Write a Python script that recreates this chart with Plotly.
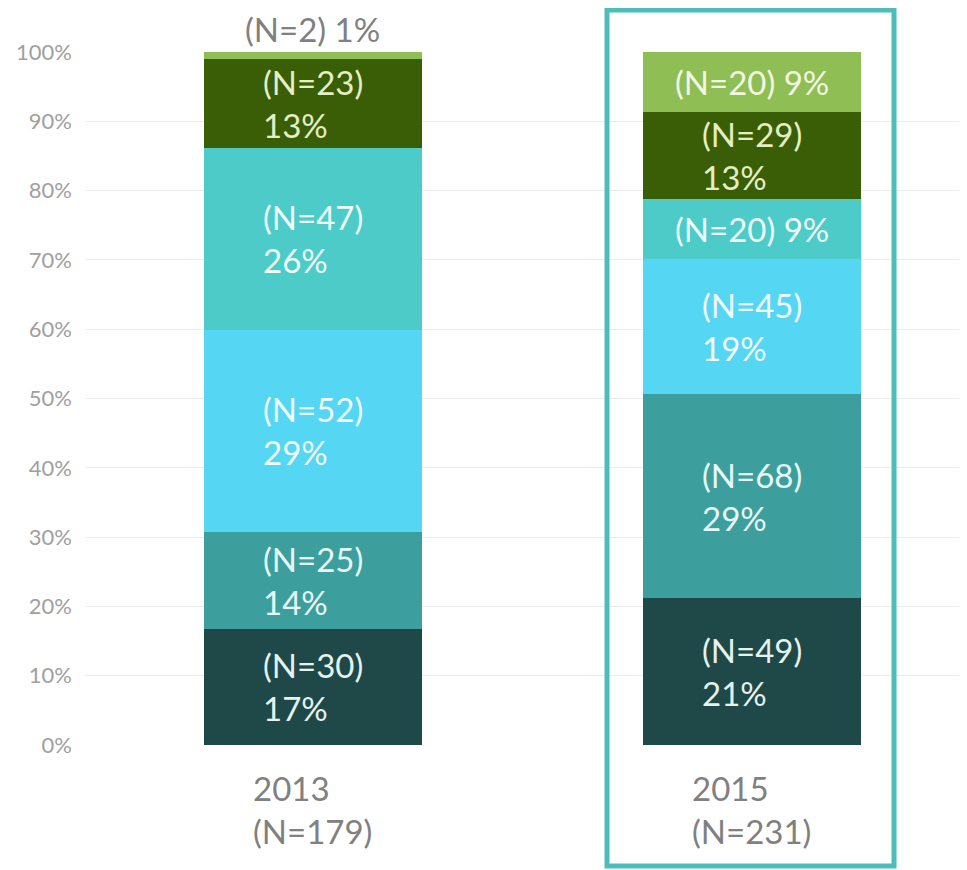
import plotly.graph_objects as go

years = ["2013", "2015"]
year_totals = [179, 231]

# segments bottom -> top
counts_2013 = [30, 25, 52, 47, 23, 2]
counts_2015 = [49, 68, 45, 20, 29, 20]
share_2013 = [16.8, 14.0, 29.1, 26.3, 12.8, 1.0]
share_2015 = [21.2, 29.4, 19.5, 8.7, 12.6, 8.6]
shown_pct_2013 = [17, 14, 29, 26, 13, 1]
shown_pct_2015 = [21, 29, 19, 9, 13, 9]

seg_colors = ["#1f4848", "#3d9f9d", "#55d6f3", "#4ccbc9", "#3a5e06", "#8fbe55"]
seg_text_colors = ["#e6f2ee", "#e8f8f6", "#f0fcff", "#f0fcf8", "#e6eec4", "#f2f7e2"]

FONT = "Lato"
LABEL_SIZE = 33
counts = [counts_2013, counts_2015]
shares = [share_2013, share_2015]
shown = [shown_pct_2013, shown_pct_2015]

fig = go.Figure()
for s in range(6):
    fig.add_trace(go.Bar(
        x=[0, 1],
        y=[share_2013[s], share_2015[s]],
        width=0.497,
        marker=dict(color=seg_colors[s], line=dict(width=0)),
        showlegend=False,
        hoverinfo="skip",
    ))

annotations = []
for yi in range(2):
    cum = 0
    for s in range(6):
        v = shares[yi][s]
        mid = cum + v / 2
        n = counts[yi][s]
        p = shown[yi][s]
        if p < 3:
            annotations.append(dict(
                x=yi, y=100, xref="x", yref="y", yanchor="bottom", yshift=1,
                text=f"(N={n}) {p}%", showarrow=False,
                font=dict(family=FONT, size=LABEL_SIZE, color="#808080")))
        elif p < 10:
            annotations.append(dict(
                x=yi, y=mid, xref="x", yref="y",
                text=f"(N={n}) {p}%", showarrow=False,
                font=dict(family=FONT, size=LABEL_SIZE, color=seg_text_colors[s])))
        else:
            annotations.append(dict(
                x=yi, y=mid, xref="x", yref="y", align="left",
                text=f"(N={n})<br>{p}%", showarrow=False,
                font=dict(family=FONT, size=LABEL_SIZE, color=seg_text_colors[s])))
        cum += v
    annotations.append(dict(
        x=yi, y=0, xref="x", yref="y", yanchor="top", yshift=-21, align="left",
        text=f"{years[yi]}<br>(N={year_totals[yi]})", showarrow=False,
        font=dict(family=FONT, size=LABEL_SIZE, color="#808080")))

fig.update_layout(
    width=967, height=870,
    margin=dict(l=77, r=8, t=44, b=133),
    paper_bgcolor="white", plot_bgcolor="white",
    barmode="stack",
    bargap=0,
    annotations=annotations,
    xaxis=dict(range=[-0.519, 1.49], showticklabels=False, showgrid=False,
               zeroline=False, showline=False, fixedrange=True),
    yaxis=dict(range=[0, 100], dtick=10, ticksuffix="%",
               showgrid=True, gridcolor="#ececec", gridwidth=1,
               zeroline=False, showline=False,
               tickfont=dict(family=FONT, size=22, color="#a0a0a0"),
               ticklabelstandoff=12),
    shapes=[dict(type="rect", xref="paper", yref="paper",
                 x0=(607 - 85) / 882, x1=(894 - 85) / 882,
                 y0=(745 - 866) / 693, y1=(745 - 10) / 693,
                 line=dict(color="#4dbdbb", width=5), fillcolor="rgba(0,0,0,0)",
                 layer="above")],
)

fig.write_html("out.html")
